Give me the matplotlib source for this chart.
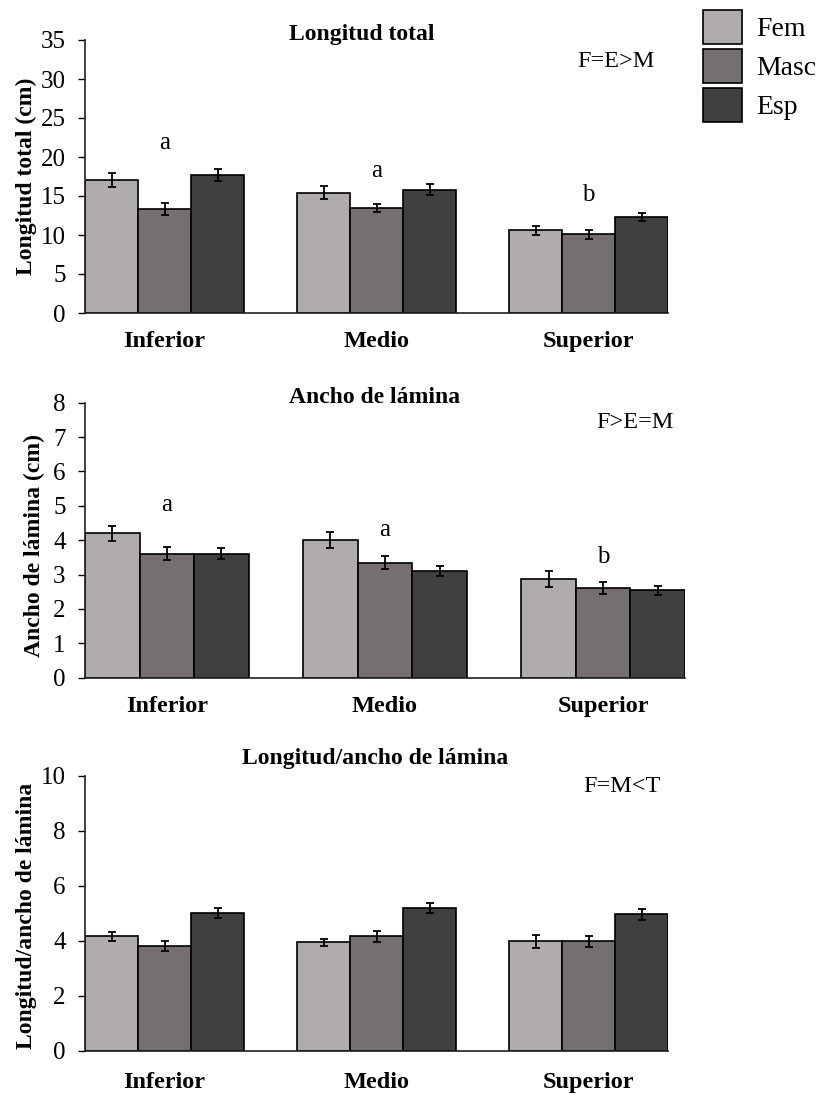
import matplotlib
matplotlib.use("Agg")
import matplotlib.pyplot as plt
import numpy as np

plt.rcParams['font.family'] = ['Liberation Serif', 'DejaVu Serif']

# Leaf positions along the stem
positions = ["Inferior", "Medio", "Superior"]
series = ["Fem", "Masc", "Esp"]
colors = ["#b0acab", "#75706f", "#404040"]

# Longitud total (cm)
lt_fem = [17.1, 15.4, 10.6]
lt_masc = [13.3, 13.5, 10.1]
lt_esp = [17.7, 15.8, 12.35]
lt_fem_err = [0.9, 0.83, 0.55]
lt_masc_err = [0.75, 0.5, 0.58]
lt_esp_err = [0.8, 0.7, 0.5]
lt_letters = ["a", "a", "b"]
lt_letter_y = [21.8, 18.2, 15.1]

# Ancho de lámina (cm)
al_fem = [4.2, 4.0, 2.87]
al_masc = [3.6, 3.35, 2.61]
al_esp = [3.6, 3.09, 2.54]
al_fem_err = [0.21, 0.23, 0.24]
al_masc_err = [0.19, 0.19, 0.17]
al_esp_err = [0.16, 0.145, 0.13]
al_letters = ["a", "a", "b"]
al_letter_y = [5.02, 4.29, 3.52]

# Longitud / ancho de lámina
ra_fem = [4.16, 3.94, 3.98]
ra_masc = [3.8, 4.16, 3.98]
ra_esp = [5.0, 5.18, 4.96]
ra_fem_err = [0.17, 0.14, 0.24]
ra_masc_err = [0.18, 0.19, 0.2]
ra_esp_err = [0.19, 0.19, 0.19]

W, H = 819, 1094
fig = plt.figure(figsize=(W / 100, H / 100), dpi=100)


def px_axes(left, right, top, bottom):
    return fig.add_axes([left / W, 1 - bottom / H, (right - left) / W, (bottom - top) / H])


panels = [
    dict(rect=(85, 668, 40, 313), vals=(lt_fem, lt_masc, lt_esp),
         errs=(lt_fem_err, lt_masc_err, lt_esp_err), ylim=35, step=5,
         title="Longitud total", title_x=0.475, title_y=1.0,
         ylabel="Longitud total (cm)", ylab_pos=(-0.083, 0.5),
         note="F=E>M", note_xy=(2.13, 32.2), xpad=13,
         letters=lt_letters, letter_y=lt_letter_y),
    dict(rect=(85, 685, 402.7, 677.7), vals=(al_fem, al_masc, al_esp),
         errs=(al_fem_err, al_masc_err, al_esp_err), ylim=8, step=1,
         title="Ancho de lámina", title_x=0.4825, title_y=1.0,
         ylabel="Ancho de lámina (cm)", ylab_pos=(-0.066, 0.479),
         note="F>E=M", note_xy=(2.145, 7.43), xpad=13,
         letters=al_letters, letter_y=al_letter_y),
    dict(rect=(85, 668, 775.7, 1050.7), vals=(ra_fem, ra_masc, ra_esp),
         errs=(ra_fem_err, ra_masc_err, ra_esp_err), ylim=10, step=2,
         title="Longitud/ancho de lámina", title_x=0.497, title_y=1.044,
         ylabel="Longitud/ancho de lámina", ylab_pos=(-0.083, 0.49),
         note="F=M<T", note_xy=(2.16, 9.6), xpad=15.5,
         letters=None, letter_y=None),
]

x = np.arange(len(positions))
bw = 0.25
handles = []
for p in panels:
    ax = px_axes(*p["rect"])
    for i, (v, e) in enumerate(zip(p["vals"], p["errs"])):
        b = ax.bar(x + (i - 1) * bw, v, width=bw, color=colors[i],
                   edgecolor="black", linewidth=1.2, label=series[i], zorder=2)
        ax.errorbar(x + (i - 1) * bw, v, yerr=e, fmt="none", ecolor="black",
                    elinewidth=1.3, capsize=2.7, capthick=1.3, zorder=3)
        if len(handles) < 3:
            handles.append(b)
    ax.set_xlim(-1.5 * bw, 2 + 1.5 * bw)
    ax.set_ylim(0, p["ylim"])
    ax.set_yticks(np.arange(0, p["ylim"] + 0.01, p["step"]))
    ax.set_xticks(x)
    ax.set_xticklabels(positions, fontweight="bold", fontsize=17.5)
    ax.tick_params(axis="x", length=0, pad=p["xpad"])
    ax.tick_params(axis="y", direction="out", length=5, width=1, pad=9,
                   labelsize=18)
    for s in ("top", "right"):
        ax.spines[s].set_visible(False)
    for s in ("left", "bottom"):
        ax.spines[s].set_linewidth(1.2)
        ax.spines[s].set_color("#202020")
    ax.text(p["title_x"], p["title_y"], p["title"], transform=ax.transAxes,
            ha="center", va="baseline", fontsize=17, fontweight="bold")
    ax.set_ylabel(p["ylabel"], fontsize=17, fontweight="bold")
    ax.yaxis.set_label_coords(*p["ylab_pos"])
    ax.text(*p["note_xy"], p["note"], ha="center", va="center", fontsize=17.5)
    if p["letters"]:
        for xi, lab, ly in zip(x, p["letters"], p["letter_y"]):
            ax.text(xi, ly, lab, ha="center", va="center", fontsize=18)

fig.legend(handles, series, loc="upper left",
           bbox_to_anchor=(703 / W, 1 - 10 / H), frameon=False, fontsize=20,
           handlelength=1.4, handleheight=1.506, labelspacing=0.18,
           handletextpad=0.5, borderpad=0, borderaxespad=0)

fig.savefig("out.png", dpi=100)
